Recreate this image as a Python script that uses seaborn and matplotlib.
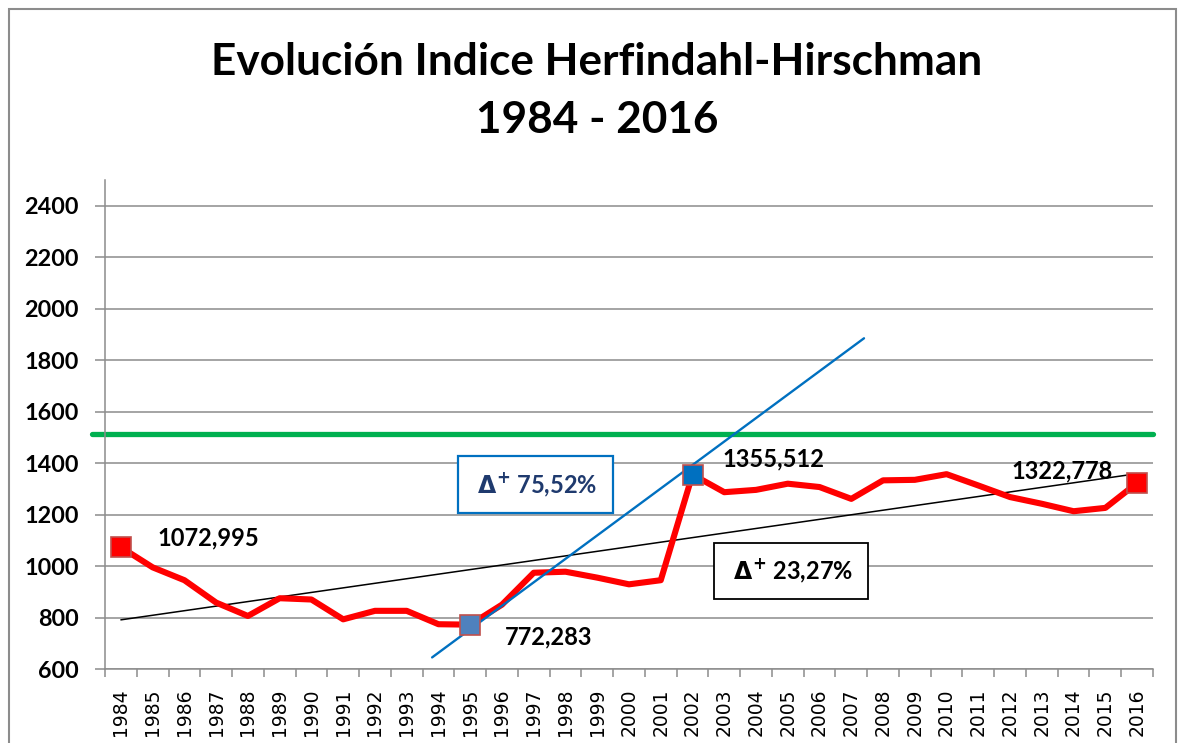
import numpy as np
import pandas as pd
import matplotlib
matplotlib.use('Agg')
import matplotlib.pyplot as plt
import seaborn as sns
from matplotlib.patches import Rectangle

# Índice Herfindahl-Hirschman por año
years = list(range(1984, 2017))
hhi = [1072.995, 995, 945, 858, 806, 875, 870, 793, 826, 826, 774,
       772.283, 850, 974, 978, 955, 929, 945, 1355.512, 1287, 1296,
       1320, 1307, 1261, 1333, 1335, 1357, 1313, 1268, 1242, 1213,
       1226, 1322.778]

threshold = 1513

# tendencias dibujadas a mano (extremos)
trend_long_x = [1984, 2016]
trend_long_y = [791, 1359]
trend_short_x = [1993.8, 2007.4]
trend_short_y = [645, 1885]

label_years = [1984, 1995, 2002, 2016]
label_texts = ['1072,995', '772,283', '1355,512', '1322,778']
delta_texts = [r' $\mathbf{\Delta^{+}}$ 75,52% ', r' $\mathbf{\Delta^{+}}$ 23,27% ']

df = pd.DataFrame({'year': years, 'hhi': hhi})

sns.set_style('white')
plt.rcParams['font.family'] = ['Lato', 'DejaVu Sans']
plt.rcParams['text.color'] = 'black'
plt.rcParams['xtick.color'] = 'black'
plt.rcParams['ytick.color'] = 'black'
plt.rcParams['mathtext.fontset'] = 'custom'
plt.rcParams['mathtext.bf'] = 'DejaVu Sans:bold'
plt.rcParams['mathtext.rm'] = 'Lato'

fig = plt.figure(figsize=(11.8, 7.43), dpi=100, facecolor='white')
ax = fig.add_axes([105 / 1180, 1 - 669 / 743, (1153 - 105) / 1180, (669 - 180) / 743])

ax.set_ylim(600, 2500)
ax.set_xlim(1983.5, 2016.5)
ax.set_yticks(np.arange(600, 2401, 200))
ax.yaxis.grid(True, color='#8c8c8c', linewidth=1.1)
ax.set_axisbelow(True)

ax.axhline(threshold, xmin=-0.012, xmax=1.0, color='#00b050', linewidth=3.8, clip_on=False, zorder=2)

ax.plot(trend_long_x, trend_long_y, color='black', linewidth=1.1, zorder=3)
ax.plot(trend_short_x, trend_short_y, color='#0070c0', linewidth=1.7, zorder=5)

sns.lineplot(data=df, x='year', y='hhi', color='#ff0000', linewidth=4.4, ax=ax, zorder=4)

marker_fill = {1984: '#ff0000', 1995: '#4f81bd', 2002: '#0070c0', 2016: '#ff0000'}
for yr in label_years:
    v = hhi[years.index(yr)]
    ax.plot([yr], [v], marker='s', markersize=14, markerfacecolor=marker_fill[yr],
            markeredgecolor='#c0504d', markeredgewidth=1.2, zorder=6)

offsets = {1984: (37, 9, 'left'), 1995: (35, -12, 'left'),
           2002: (30, 16, 'left'), 2016: (-24, 12, 'right')}
for yr, txt in zip(label_years, label_texts):
    dx, dy, ha = offsets[yr]
    ax.annotate(txt, (yr, hhi[years.index(yr)]), xytext=(dx, dy), textcoords='offset pixels',
                ha=ha, va='center', fontsize=17, fontweight='bold', color='black', zorder=7)

ax.text(1997.06, 1316, delta_texts[0], ha='center', va='center', fontsize=17, fontweight='bold',
        color='#1f3a6e', zorder=8,
        bbox=dict(boxstyle='square,pad=0.6', facecolor='white', edgecolor='#0070c0', linewidth=1.6))
ax.text(2005.1, 980, delta_texts[1], ha='center', va='center', fontsize=17, fontweight='bold',
        color='black', zorder=8,
        bbox=dict(boxstyle='square,pad=0.6', facecolor='white', edgecolor='black', linewidth=1.3))

# ejes: marcas entre categorías, etiquetas centradas
ax.set_xticks(np.arange(1983.5, 2017, 1))
ax.set_xticklabels([])
ax.set_xticks(years, minor=True)
ax.set_xticklabels([str(y) for y in years], minor=True)
ax.tick_params(axis='x', which='major', direction='out', length=6, width=1.1, color='#8c8c8c', bottom=True)
ax.tick_params(axis='x', which='minor', length=0, pad=14, labelsize=13.5,
               labelfontfamily='DejaVu Sans', labelrotation=90)
ax.tick_params(axis='y', direction='out', length=7, width=1.1, color='#8c8c8c', left=True, pad=12)
for lbl in ax.get_yticklabels():
    lbl.set_fontweight('bold')
    lbl.set_fontsize(16.8)

for s in ['top', 'right']:
    ax.spines[s].set_visible(False)
for s in ['left', 'bottom']:
    ax.spines[s].set_color('#8c8c8c')
    ax.spines[s].set_linewidth(1.1)
ax.set_xlabel('')
ax.set_ylabel('')

fig.text(597 / 1180, 1 - 62 / 743, 'Evolución Indice Herfindahl-Hirschman', ha='center', va='center',
         fontsize=31.8, fontweight='bold', color='black')
fig.text(597 / 1180, 1 - 120 / 743, '1984 - 2016', ha='center', va='center', fontsize=31.8,
         fontweight='bold', color='black')

fig.patches.append(Rectangle((9 / 1180, -0.05), (1176 - 9) / 1180, 1.05 - 9 / 743,
                             transform=fig.transFigure, fill=False, edgecolor='#8c8c8c',
                             linewidth=1.5, figure=fig))

fig.savefig('out.png', dpi=100, facecolor='white')
